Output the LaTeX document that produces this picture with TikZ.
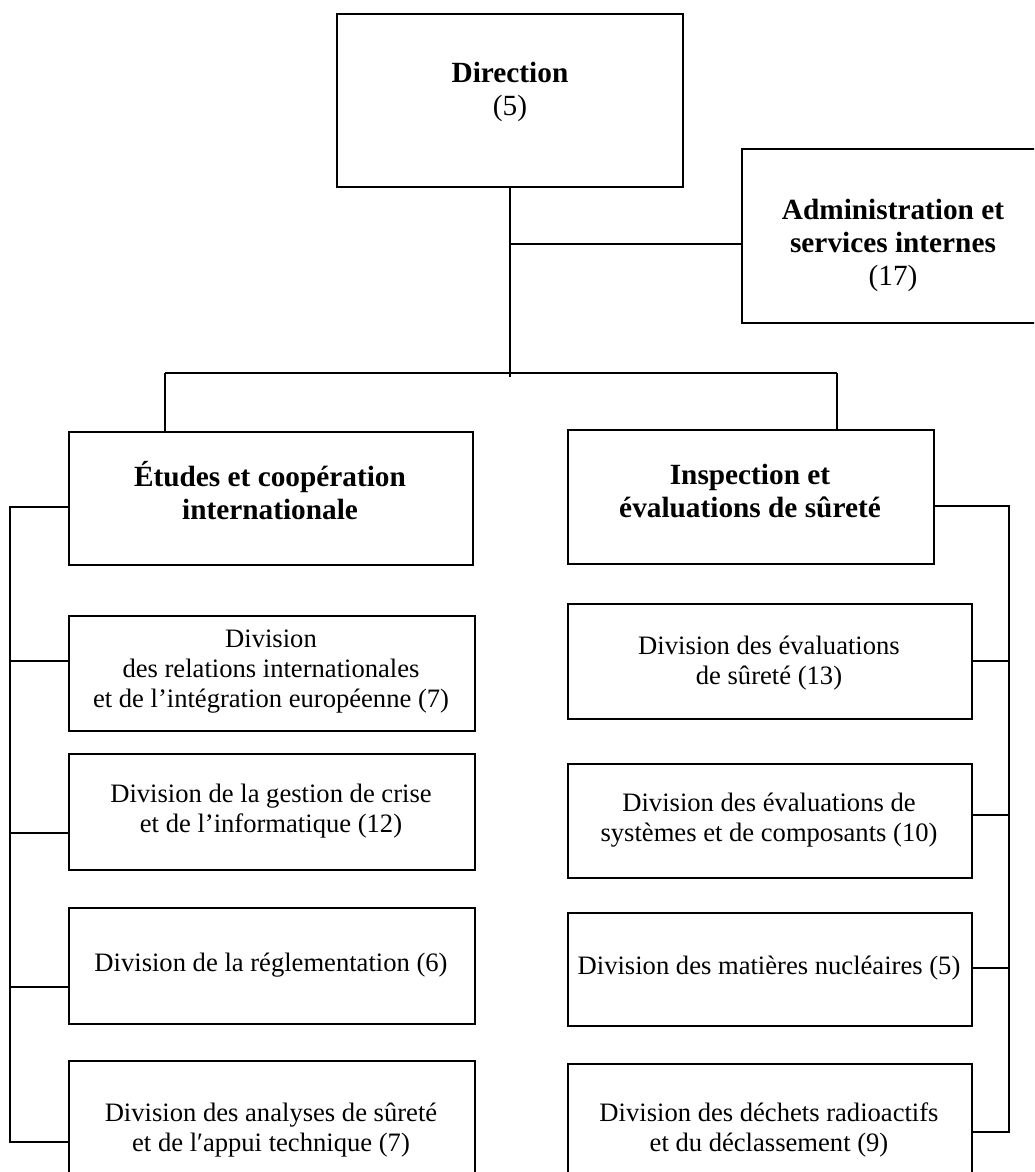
\documentclass[tikz,border=0pt]{standalone}
\usepackage{fontspec}
\setmainfont{Liberation Serif}
\begin{document}
\begin{tikzpicture}[x=1pt,y=-1pt,
  box/.style={draw, line width=2pt, rectangle, inner sep=0pt},
  btxt/.style={align=center, font=\fontsize{29.3}{33}\selectfont\bfseries, inner sep=0pt},
  rtxt/.style={align=center, font=\fontsize{26.6}{30}\selectfont, inner sep=0pt},
  link/.style={line width=2pt}]
\useasboundingbox (0,0) rectangle (1034,1172);
\clip (0,0) rectangle (1034,1172);

% top level
\node[box, minimum width=346, minimum height=173] (dir) at (510,100.5) {};
\node[btxt] (dirtxt) at (510,92) {Direction\\\mdseries(5)};
\node[box, minimum width=310, minimum height=174, anchor=north west] (adm) at (741,148) {};
\node[btxt] (admtxt) at (893,245) {Administration et\\services internes\\\mdseries(17)};

% departments
\node[box, minimum width=404, minimum height=133, anchor=north west] (etu) at (68,431) {};
\node[btxt] (etutxt) at (270,491) {Études et coopération\\internationale};
\node[box, minimum width=366, minimum height=134, anchor=north west] (ins) at (567,429) {};
\node[btxt] (instxt) at (750,491) {Inspection et\\évaluations de sûreté};

% divisions, left column
\node[box, minimum width=406, minimum height=115, anchor=north west] (l1) at (68,615) {};
\node[rtxt] (l1txt) at (271,672) {Division\\des relations internationales\\et de l’intégration européenne (7)};
\node[box, minimum width=406, minimum height=116, anchor=north west] (l2) at (68,753) {};
\node[rtxt] (l2txt) at (271,811) {Division de la gestion de crise\\et de l’informatique (12)};
\node[box, minimum width=406, minimum height=116, anchor=north west] (l3) at (68,907) {};
\node[rtxt] (l3txt) at (271,965) {Division de la réglementation (6)};
\node[box, minimum width=406, minimum height=140, anchor=north west] (l4) at (68,1060) {};
\node[rtxt] (l4txt) at (271,1130) {Division des analyses de sûreté\\et de l′appui technique (7)};

% divisions, right column
\node[box, minimum width=404, minimum height=115, anchor=north west] (r1) at (567,603) {};
\node[rtxt] (r1txt) at (769,663) {Division des évaluations\\de sûreté (13)};
\node[box, minimum width=404, minimum height=114, anchor=north west] (r2) at (567,763) {};
\node[rtxt] (r2txt) at (769,820) {Division des évaluations de\\systèmes et de composants (10)};
\node[box, minimum width=404, minimum height=113, anchor=north west] (r3) at (567,912) {};
\node[rtxt] (r3txt) at (769,968) {Division des matières nucléaires (5)};
\node[box, minimum width=404, minimum height=140, anchor=north west] (r4) at (567,1063) {};
\node[rtxt] (r4txt) at (769,1130) {Division des déchets radioactifs\\et du déclassement (9)};

% junction points
\coordinate (hub) at (510,373);
\coordinate (hubend) at (510,377);
\coordinate (admj) at (510,244);
\coordinate (lj) at (165,373);
\coordinate (rj) at (837,373);
\coordinate (lb0) at (10,507);
\coordinate (lb1) at (10,661);
\coordinate (lb2) at (10,833);
\coordinate (lb3) at (10,987);
\coordinate (lb4) at (10,1142);
\coordinate (rb0) at (1009,506);
\coordinate (rb1) at (1009,661);
\coordinate (rb2) at (1009,815);
\coordinate (rb3) at (1009,968);
\coordinate (rb4) at (1009,1132);

% hierarchy links
\draw[link] (dir.south) -- (hubend);
\draw[link] (admj) -- (admj -| adm.west);
\draw[link] (lj) -- (rj);
\draw[link] (lj) -- (lj |- etu.north);
\draw[link] (rj) -- (rj |- ins.north);

% left bracket
\draw[link] (etu.west |- lb0) -- (lb0) -- (lb4) -- (l4.west |- lb4);
\draw[link] (lb1) -- (l1.west |- lb1);
\draw[link] (lb2) -- (l2.west |- lb2);
\draw[link] (lb3) -- (l3.west |- lb3);

% right bracket
\draw[link] (ins.east |- rb0) -- (rb0) -- (rb4) -- (r4.east |- rb4);
\draw[link] (rb1) -- (r1.east |- rb1);
\draw[link] (rb2) -- (r2.east |- rb2);
\draw[link] (rb3) -- (r3.east |- rb3);
\end{tikzpicture}
\end{document}
